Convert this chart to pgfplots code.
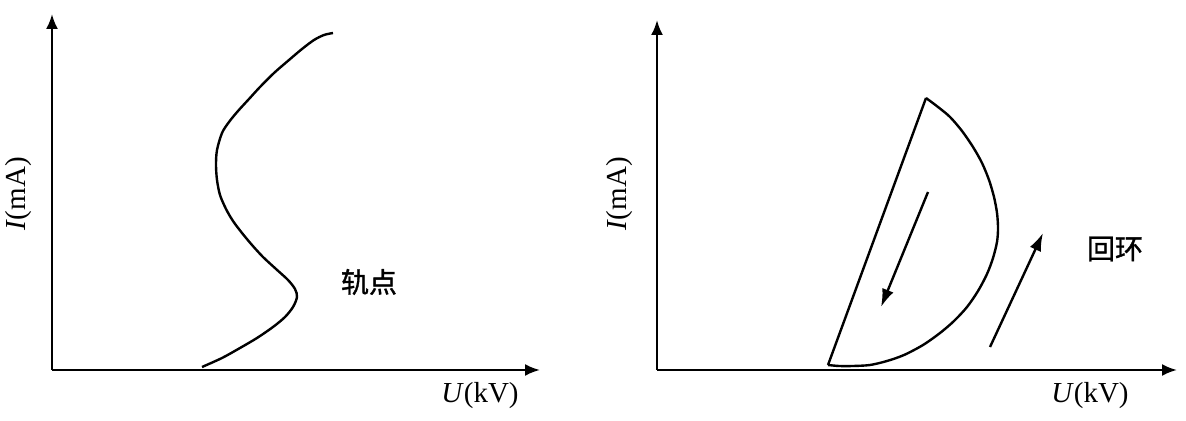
\documentclass[border=0pt]{standalone}
\usepackage{pgfplots}
\pgfplotsset{compat=1.18}
\usetikzlibrary{arrows.meta}
\usepackage{fontspec}
\setmainfont{Liberation Serif}
\newfontfamily\cjk[FakeBold=1.2]{Noto Sans CJK SC}
\begin{document}
\begin{tikzpicture}
\useasboundingbox (-26pt,-25.5pt) rectangle (567pt,185pt);
\pgfplotsset{
  panel/.style={
    x=0.5pt, y=0.5pt,
    axis lines=left,
    axis line style={line width=1.2pt, -{Latex[length=7.5pt,width=6pt]}},
    xtick=\empty, ytick=\empty,
    clip=false,
    xmin=0, ymin=0,
  }
}
% left panel
\begin{axis}[panel, xmax=488, ymax=356, at={(0pt,0pt)}]
\addplot[black, line width=1.2pt, smooth, tension=0.5] coordinates {
(150,3) (170,12) (188,22) (205,32) (221,43) (233,53) (241,63) (245,73)
(243,81) (236,90) (224,101) (211,113) (200,125) (190,137) (181,149)
(174,161) (168,175) (165,190) (164,205) (165,220) (170,237) (177,248)
(186,259) (197,271) (208,283) (222,297) (237,310) (250,321) (262,330)
(272,335) (281,337)};
\node[font=\fontsize{14.5}{16}\selectfont] at (axis cs:428,-26) {\textit{U}(kV)};
\node[font=\fontsize{14.5}{16}\selectfont, rotate=90] at (axis cs:-33,176) {\textit{I}(mA)};
\node[font=\cjk\fontsize{14}{16}\selectfont] at (axis cs:317,88) {轨点};
\end{axis}
% right panel
\begin{axis}[panel, xmax=520, ymax=350, at={(302.5pt,0pt)}]
\addplot[black, line width=1.2pt] coordinates {(171,5) (269,272)};
\addplot[black, line width=1.2pt, smooth, tension=0.5] coordinates {
(269,272) (281,263) (293,253) (305,239) (316,223) (325,207) (332,190)
(337,173) (340,157) (341,142) (340,128) (336,112) (330,96) (321,79)
(310,63) (297,49) (283,37) (266,25) (247,15) (230,9) (213,5) (196,4)
(182,4) (171,5)};
\addplot[black, line width=1.2pt, -{Latex[length=9pt,width=6pt]}] coordinates {(271,178) (224,63)};
\addplot[black, line width=1.2pt, -{Latex[length=9pt,width=6pt]}] coordinates {(333,23) (386,137)};
\node[font=\fontsize{14.5}{16}\selectfont] at (axis cs:433,-26) {\textit{U}(kV)};
\node[font=\fontsize{14.5}{16}\selectfont, rotate=90] at (axis cs:-37,176) {\textit{I}(mA)};
\node[font=\cjk\fontsize{14}{16}\selectfont] at (axis cs:458,121) {回环};
\end{axis}
\end{tikzpicture}
\end{document}
